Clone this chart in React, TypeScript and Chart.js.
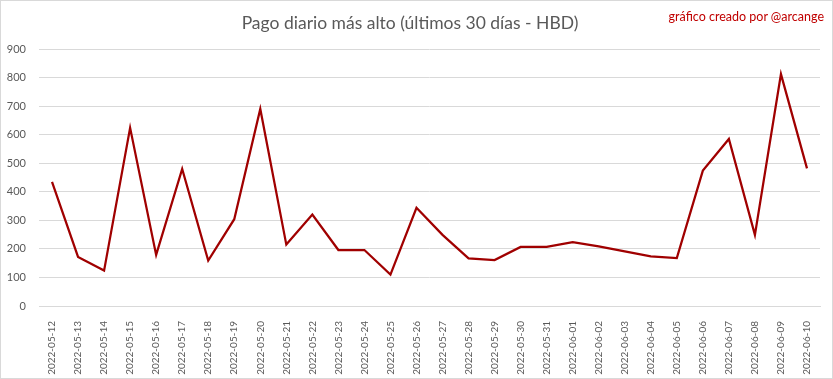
import React, { useEffect, useRef } from "react";
import { Chart, registerables } from "chart.js";

Chart.register(...registerables);

const dates = [
  "2022-05-12", "2022-05-13", "2022-05-14", "2022-05-15", "2022-05-16",
  "2022-05-17", "2022-05-18", "2022-05-19", "2022-05-20", "2022-05-21",
  "2022-05-22", "2022-05-23", "2022-05-24", "2022-05-25", "2022-05-26",
  "2022-05-27", "2022-05-28", "2022-05-29", "2022-05-30", "2022-05-31",
  "2022-06-01", "2022-06-02", "2022-06-03", "2022-06-04", "2022-06-05",
  "2022-06-06", "2022-06-07", "2022-06-08", "2022-06-09", "2022-06-10",
];

const pagoMaximo = [
  435, 172, 124, 624, 179, 480, 159, 304, 690, 215,
  320, 196, 196, 110, 344, 249, 167, 161, 207, 207,
  224, 209, 191, 174, 168, 474, 585, 249, 812, 482,
];

const yTicks = [0, 100, 200, 300, 400, 500, 600, 700, 800, 900];

const titleText = "Pago diario más alto (últimos 30 días - HBD)";
const creditText = "gráfico creado por @arcange";

export default function App() {
  const ref = useRef<HTMLCanvasElement | null>(null);

  useEffect(() => {
    document.body.style.margin = "0";
    const canvas = ref.current;
    if (!canvas) return;
    const chart = new Chart(canvas, {
      type: "line",
      data: {
        labels: dates,
        datasets: [
          {
            label: "HBD",
            data: pagoMaximo,
            borderColor: "#A00000",
            backgroundColor: "#A00000",
            borderWidth: 2.25,
            pointRadius: 0,
            tension: 0,
          },
        ],
      },
      options: {
        animation: false,
        responsive: false,
        devicePixelRatio: 1,
        layout: { padding: { left: 0, right: 13, top: 0, bottom: 0 } },
        plugins: {
          legend: { display: false },
          tooltip: { enabled: false },
          title: {
            display: true,
            text: titleText,
            color: "#595959",
            font: { family: "Lato", size: 17.5, weight: "normal", lineHeight: 1.2 },
            padding: { top: 13, bottom: 15 },
          },
        },
        scales: {
          x: {
            offset: true,
            grid: { display: false },
            border: { display: true, color: "#d9d9d9" },
            afterFit: (axis: any) => {
              axis.height = 73;
            },
            ticks: {
              color: "#595959",
              font: { family: "Lato", size: 10 },
              minRotation: 90,
              maxRotation: 90,
              autoSkip: false,
              padding: 7,
            },
          },
          y: {
            min: 0,
            max: 900,
            afterBuildTicks: (axis: any) => {
              axis.ticks = yTicks.map((v) => ({ value: v }));
            },
            afterFit: (axis: any) => {
              axis.width = 39;
            },
            grid: { color: "#d9d9d9", drawTicks: false, lineWidth: 1 },
            border: { display: false },
            ticks: {
              color: "#595959",
              font: { family: "Lato", size: 11 },
              padding: 13,
            },
          },
        },
      },
    });
    return () => chart.destroy();
  }, []);

  return (
    <div
      style={{
        position: "fixed",
        left: 0,
        top: 0,
        width: 833,
        height: 379,
        background: "#fff",
      }}
    >
      <canvas ref={ref} width={833} height={379} style={{ display: "block" }} />
      <div
        style={{
          position: "absolute",
          left: 0,
          top: 0,
          width: 831,
          height: 377,
          border: "1px solid #d9d9d9",
          pointerEvents: "none",
        }}
      />
      <div
        style={{
          position: "absolute",
          right: 9,
          top: 9,
          color: "#C00000",
          fontFamily: "Lato",
          fontSize: 12.5,
          whiteSpace: "nowrap",
        }}
      >
        {creditText}
      </div>
    </div>
  );
}
